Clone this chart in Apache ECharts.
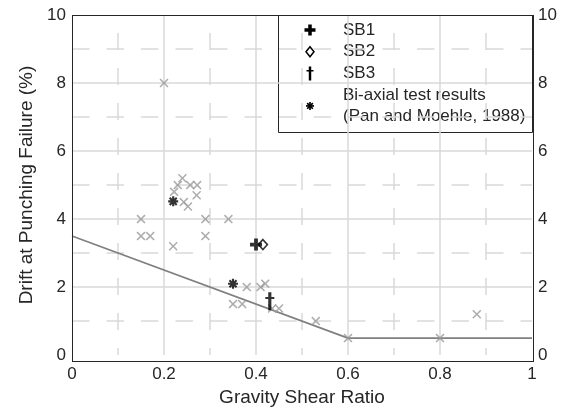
<!DOCTYPE html>
<html>
<head>
<meta charset="utf-8">
<script src="https://cdn.jsdelivr.net/npm/echarts@6/dist/echarts.min.js"></script>
<style>
  html, body { margin: 0; padding: 0; background: #fff; }
  #wrap { position: relative; width: 568px; height: 412px; }
  #chart { position: absolute; left: 0; top: 0; width: 568px; height: 412px; }
  /* plot frame */
  #frame {
    position: absolute; left: 72px; top: 15px; width: 460px; height: 345px;
    border: 1px solid #262626; box-sizing: content-box; pointer-events: none;
  }
</style>
</head>
<body>
<div id="wrap">
  <div id="chart"></div>
  <div id="frame"></div>
</div>
<script>
// Earlier slab-column tests: gravity shear ratio vs. drift at punching failure
const priorRatio = [0.20, 0.15, 0.15, 0.17, 0.22, 0.222, 0.23, 0.24, 0.257, 0.272, 0.271, 0.243, 0.252,
                    0.29, 0.29, 0.34, 0.38, 0.41, 0.42, 0.35, 0.37, 0.435, 0.45, 0.53, 0.60, 0.80, 0.88];
const priorDrift = [8.0, 4.0, 3.5, 3.5, 3.2, 4.8, 5.0, 5.2, 5.0, 5.0, 4.7, 4.5, 4.37,
                    4.0, 3.5, 4.0, 2.0, 2.0, 2.1, 1.5, 1.5, 1.37, 1.37, 1.0, 0.5, 0.5, 1.2];

// Specimens of this programme
const sb1 = [0.40, 3.25];
const sb2 = [0.415, 3.25];
const sb3 = [0.43, 1.58];

// Bi-axial test results (Pan and Moehle, 1988)
const biaxialRatio = [0.22, 0.35];
const biaxialDrift = [4.52, 2.1];

// Design limit line
const limitRatio = [0, 0.6, 1.0];
const limitDrift = [3.5, 0.5, 0.5];

const legendNames = ['SB1', 'SB2', 'SB3', 'Bi-axial test results\n(Pan and Moehle, 1988)'];

const FONT = '"Liberation Sans", Arial, Helvetica, sans-serif';
const INK = '#262626';
const GRID_CLR = '#d9d9d9';
const PRIOR_CLR = '#999999';

// plot box in pixels
const PLOT = { left: 72, right: 36, top: 15, bottom: 52, width: 460, height: 345 };

// marker outlines as polygons (each a list of [x, y] points)
const X_SHAPE = [[[0,1.2],[1.2,0],[5,3.8],[8.8,0],[10,1.2],[6.2,5],[10,8.8],[8.8,10],[5,6.2],[1.2,10],[0,8.8],[3.8,5]]];
const PLUS_SHAPE = [[[3.4,0],[6.6,0],[6.6,3.4],[10,3.4],[10,6.6],[6.6,6.6],[6.6,10],[3.4,10],[3.4,6.6],[0,6.6],[0,3.4],[3.4,3.4]]];
const DAGGER_SHAPE = [[[2.6,0],[5.4,0],[5.4,4.6],[8,4.6],[8,6.6],[5.4,6.6],[5.4,18],[2.6,18],[2.6,6.6],[0,6.6],[0,4.6],[2.6,4.6]]];
const DIAMOND_SHAPE = [[[5,0],[10,6],[5,12],[0,6]]];

function starShape(spokes, thick) {
  // rotated bars through the centre (5,5), all with the same winding
  const out = [];
  const h = 5, t = thick / 2;
  for (let k = 0; k < spokes; k++) {
    const a = Math.PI * k / spokes;
    const c = Math.cos(a), s = Math.sin(a);
    out.push([[-h, -t], [h, -t], [h, t], [-h, t]].map(p =>
      [5 + p[0] * c - p[1] * s, 5 + p[0] * s + p[1] * c]));
  }
  return out;
}
const STAR_SHAPE = starShape(4, 2.1);

function toSymbol(shape) {
  return 'path://' + shape.map(poly =>
    'M' + poly.map(p => (+p[0].toFixed(3)) + ',' + (+p[1].toFixed(3))).join('L') + 'Z').join('');
}

function bounds(shape) {
  let x0 = Infinity, y0 = Infinity, x1 = -Infinity, y1 = -Infinity;
  shape.forEach(poly => poly.forEach(p => {
    x0 = Math.min(x0, p[0]); y0 = Math.min(y0, p[1]);
    x1 = Math.max(x1, p[0]); y1 = Math.max(y1, p[1]);
  }));
  return { x0, y0, x1, y1 };
}

// legend icon polygons fitted into a w x h box centred on (cx, cy)
function iconPolys(shape, cx, cy, w, h, style) {
  const b = bounds(shape);
  const sx = w / (b.x1 - b.x0), sy = h / (b.y1 - b.y0);
  return shape.map(poly => ({
    type: 'polygon',
    shape: { points: poly.map(p => [cx - w / 2 + (p[0] - b.x0) * sx, cy - h / 2 + (p[1] - b.y0) * sy]) },
    style: style
  }));
}

const zip = (a, b) => a.map((v, i) => [v, b[i]]);

const chart = echarts.init(document.getElementById('chart'), null, { renderer: 'canvas' });

const axisLabel = { color: INK, fontSize: 17, fontFamily: FONT };
const gridLine = () => ({ show: true, showMinLine: false, showMaxLine: false, lineStyle: { color: GRID_CLR, width: 1.5 } });

// legend box, drawn on top of the plot area
const legendLeft = 278, legendTop = 15, legendW = 254, legendH = 117;
const rowH = 21.7, iconX = 310, textX = 343, firstRow = 30;
const legendIcons = [
  { shape: PLUS_SHAPE, w: 11, h: 11, style: { fill: '#000' } },
  { shape: DIAMOND_SHAPE, w: 8, h: 10, style: { fill: '#fff', stroke: '#000', lineWidth: 1.5 } },
  { shape: DAGGER_SHAPE, w: 7, h: 14, style: { fill: '#000' } },
  { shape: STAR_SHAPE, w: 8, h: 8, style: { fill: '#000' } }
];
const legendRowY = [firstRow, firstRow + rowH, firstRow + 2 * rowH, firstRow + 3.5 * rowH];
const overlayChildren = [
  { type: 'rect',
    shape: { x: legendLeft + 0.5, y: legendTop + 0.5, width: legendW, height: legendH },
    style: { fill: '#fff', stroke: INK, lineWidth: 1 } }
];
legendNames.forEach((name, i) => {
  const ic = legendIcons[i];
  const cy = legendRowY[i];
  iconPolys(ic.shape, iconX, cy, ic.w, ic.h, ic.style).forEach(el => overlayChildren.push(el));
  overlayChildren.push({
    type: 'text',
    x: textX, y: cy,
    style: {
      text: name, fill: INK, font: '17px ' + FONT,
      verticalAlign: 'middle', align: 'left', lineHeight: rowH
    }
  });
});

const option = {
  animation: false,
  backgroundColor: '#fff',
  grid: { left: PLOT.left, right: PLOT.right, top: PLOT.top, bottom: PLOT.bottom },
  xAxis: [{
    type: 'value', min: 0, max: 1, interval: 0.2, position: 'bottom',
    name: 'Gravity Shear Ratio', nameLocation: 'middle', nameGap: 29,
    nameTextStyle: { color: INK, fontSize: 19, fontFamily: FONT },
    axisLine: { show: false },
    axisTick: { show: false },
    axisLabel: Object.assign({ margin: 11, formatter: v => (v === 0 || v === 1) ? String(v) : v.toFixed(1) }, axisLabel),
    splitLine: gridLine(),
    minorTick: { show: false, splitNumber: 2 },
    minorSplitLine: { show: true, lineStyle: { color: GRID_CLR, width: 1.5, type: [17, 18], dashOffset: 17 } }
  }],
  yAxis: [{
    type: 'value', min: 0, max: 10, interval: 2, position: 'left',
    name: 'Drift at Punching Failure (%)', nameLocation: 'middle', nameGap: 36, nameRotate: 90,
    nameTextStyle: { color: INK, fontSize: 19, fontFamily: FONT },
    axisLine: { show: false },
    axisTick: { show: false },
    axisLabel: Object.assign({ margin: 6 }, axisLabel),
    splitLine: gridLine(),
    minorTick: { show: false, splitNumber: 2 },
    minorSplitLine: { show: true, lineStyle: { color: GRID_CLR, width: 1.5, type: [17.5, 17], dashOffset: 0 } }
  }, {
    type: 'value', min: 0, max: 10, interval: 2, position: 'right',
    axisLine: { show: false },
    axisTick: { show: false },
    axisLabel: Object.assign({ margin: 6 }, axisLabel),
    splitLine: { show: false }
  }],
  series: [
    {
      name: 'Prior tests', type: 'scatter',
      data: zip(priorRatio, priorDrift),
      symbol: toSymbol(X_SHAPE), symbolSize: 9,
      itemStyle: { color: PRIOR_CLR }, z: 3
    },
    {
      name: 'Limit', type: 'line',
      data: zip(limitRatio, limitDrift),
      showSymbol: false, symbol: 'none',
      lineStyle: { color: '#808080', width: 1.7 }, z: 2
    },
    {
      name: legendNames[3], type: 'scatter',
      data: zip(biaxialRatio, biaxialDrift),
      symbol: toSymbol(STAR_SHAPE), symbolSize: 10,
      itemStyle: { color: '#000' }, z: 5
    },
    {
      name: 'SB2', type: 'scatter',
      data: [sb2],
      symbol: toSymbol(DIAMOND_SHAPE), symbolSize: [9, 10],
      itemStyle: { color: '#fff', borderColor: '#000', borderWidth: 1.6 }, z: 5
    },
    {
      name: 'SB1', type: 'scatter',
      data: [sb1],
      symbol: toSymbol(PLUS_SHAPE), symbolSize: 12,
      itemStyle: { color: '#000' }, z: 6
    },
    {
      name: 'SB3', type: 'scatter',
      data: [sb3],
      symbol: toSymbol(DAGGER_SHAPE), symbolSize: [9, 18],
      itemStyle: { color: '#000' }, z: 6
    }
  ],
  graphic: [{ type: 'group', z: 100, children: overlayChildren }]
};

chart.setOption(option);
</script>
</body>
</html>
